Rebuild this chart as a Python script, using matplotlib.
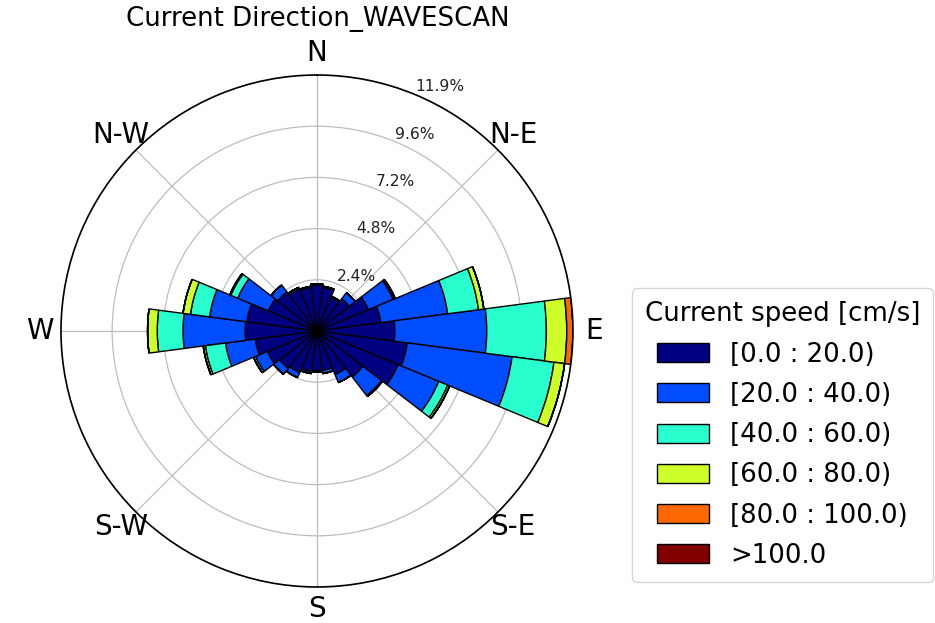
import numpy as np
import matplotlib
matplotlib.use("Agg")
import matplotlib.pyplot as plt

# Direction sectors (degrees, compass, clockwise from N)
directions = [0, 15, 30, 45, 60, 75, 90, 105, 120, 135, 150, 165,
              180, 195, 210, 225, 240, 255, 270, 285, 300, 315, 330, 345]

# Frequency (%) per speed bin for each direction sector
speed_0_20   = [2.15, 2.05, 1.70, 1.90, 2.60, 3.00, 3.63, 4.25, 4.10, 2.70, 2.20, 1.85,
                1.85, 1.90, 2.10, 2.20, 2.50, 2.90, 3.35, 3.30, 2.45, 2.30, 2.10, 2.05]
speed_20_40  = [0.05, 0.05, 0.05, 0.35, 1.25, 3.15, 4.29, 4.93, 2.05, 1.10, 0.40, 0.15,
                0.05, 0.10, 0.25, 0.35, 0.60, 1.40, 2.90, 1.75, 1.55, 0.40, 0.10, 0.05]
speed_40_60  = [0.00, 0.00, 0.00, 0.00, 0.05, 1.45, 2.78, 1.97, 0.45, 0.05, 0.00, 0.00,
                0.00, 0.00, 0.00, 0.00, 0.10, 0.95, 1.20, 0.90, 0.35, 0.00, 0.00, 0.00]
speed_60_80  = [0.00, 0.00, 0.00, 0.00, 0.05, 0.25, 0.95, 0.50, 0.10, 0.00, 0.00, 0.00,
                0.00, 0.00, 0.00, 0.00, 0.00, 0.10, 0.45, 0.35, 0.05, 0.00, 0.00, 0.00]
speed_80_100 = [0.00, 0.00, 0.00, 0.00, 0.00, 0.00, 0.29, 0.00, 0.00, 0.00, 0.00, 0.00,
                0.00, 0.00, 0.00, 0.00, 0.00, 0.00, 0.00, 0.00, 0.00, 0.00, 0.00, 0.00]
speed_100_up = [0.00] * 24

bin_labels = ["[0.0 : 20.0)", "[20.0 : 40.0)", "[40.0 : 60.0)",
              "[60.0 : 80.0)", "[80.0 : 100.0)", ">100.0"]
theta_labels = ["N", "N-E", "E", "S-E", "S", "S-W", "W", "N-W"]
title = "Current Direction_WAVESCAN"
legend_title = "Current speed [cm/s]"

bins = [speed_0_20, speed_20_40, speed_40_60, speed_60_80, speed_80_100, speed_100_up]
colors = plt.get_cmap("jet")(np.linspace(0, 1, len(bins)))

fig = plt.figure(figsize=(9.35, 6.23), dpi=100)
ax = fig.add_axes([0.0652, 0.0578, 0.5476, 0.8218], projection="polar")
ax.set_theta_zero_location("N")
ax.set_theta_direction(-1)

theta = np.deg2rad(directions)
width = np.deg2rad(360 / len(directions))
bottom = np.zeros(len(directions))
handles = []
for vals, c, lab in zip(bins, colors, bin_labels):
    vals = np.asarray(vals)
    h = ax.bar(theta, vals, width=width, bottom=bottom, color=c,
               edgecolor="k", linewidth=1.0, label=lab, zorder=2)
    handles.append(h)
    bottom = bottom + vals

rmax = bottom.max()
ax.set_ylim(0, rmax)
radii = np.linspace(0, rmax, 6)[1:]
ax.set_rgrids(radii, labels=["%.1f%%" % r for r in radii], angle=22.5,
              fontsize=11.2, color="#222222")
ax.set_thetagrids(np.arange(0, 360, 45), labels=theta_labels, fontsize=20)
ax.tick_params(axis="x", pad=5)
ax.grid(True, color="#bdbdbd", linewidth=0.9)
for gl in ax.yaxis.get_gridlines() + ax.xaxis.get_gridlines():
    gl.set_zorder(3)
ax.spines["polar"].set_linewidth(1.2)

fig.text(0.34, 1 - 19 / 623, title, ha="center", va="center", fontsize=18.7)

leg = fig.legend(handles=handles, labels=bin_labels, title=legend_title,
                 loc="lower right", bbox_to_anchor=(0.998, 0.0658),
                 borderaxespad=0.0,
                 fontsize=18.7, title_fontsize=18.7, handlelength=2.0,
                 handleheight=0.75, labelspacing=0.55, borderpad=0.5)

fig.savefig("out.png", dpi=100)
